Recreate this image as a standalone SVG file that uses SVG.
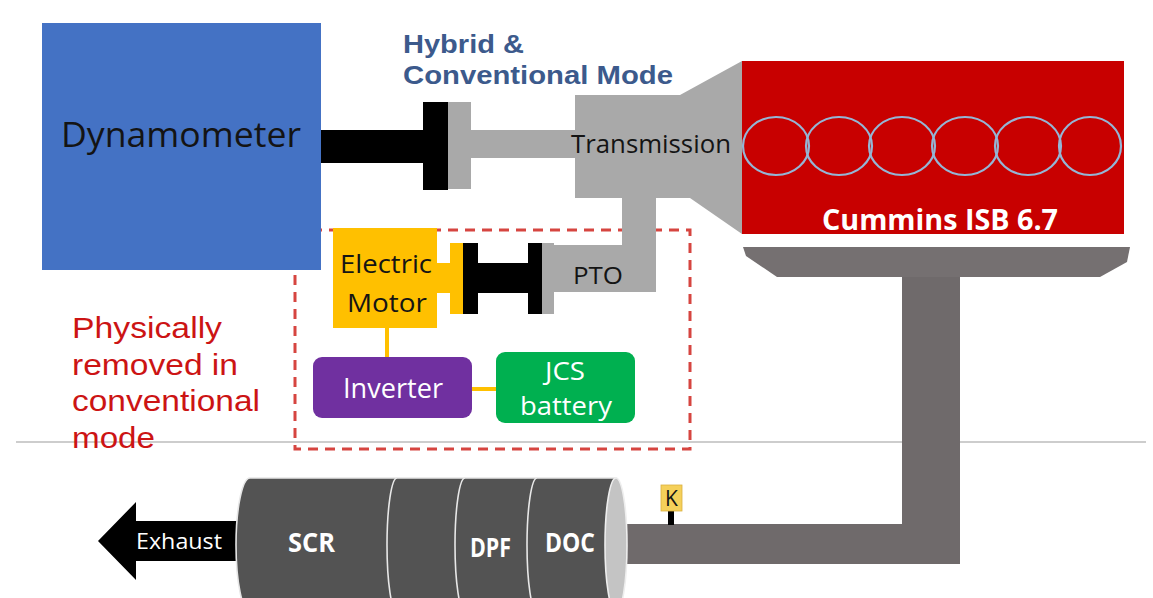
<svg xmlns="http://www.w3.org/2000/svg" width="1153" height="598" viewBox="0 0 1153 598">
  <style>
    .sans { font-family: "Open Sans", "DejaVu Sans", sans-serif; }
    .arial { font-family: "Liberation Sans", Arial, sans-serif; }
    .dark { fill: #141414; }
    .white { fill: #ffffff; }
    .bold { font-weight: bold; }
    .metal { fill: #a9a9a9; }
    .pipe { fill: #6f6a6b; }
    .shaft { fill: #000000; }
    .wire { stroke: #ffc000; stroke-width: 4; fill: none; }
    .cyl { fill: none; stroke: #94b6d6; stroke-width: 2.2; }
    .divider { fill: none; stroke: #e8e8e8; stroke-width: 1.6; }
  </style>

  <rect width="1153" height="598" fill="#ffffff"/>

  <!-- thin horizontal rule -->
  <line x1="16" y1="442" x2="1146" y2="442" stroke="#bdbdbd" stroke-width="1.3"/>

  <!-- region of removable hybrid parts -->
  <g id="hybrid-zone">
    <rect x="295" y="230" width="395" height="219" fill="none" stroke="#d64540" stroke-width="3" stroke-dasharray="10 7"/>
  </g>

  <g id="connectors">
    <!-- dyno shaft and coupling -->
    <rect class="shaft" x="320" y="130" width="104" height="33"/>
    <rect class="shaft" x="423" y="102" width="25" height="88"/>
    <rect class="metal" x="448" y="102" width="23" height="87"/>
    <rect class="metal" x="470" y="130" width="106" height="28"/>
    <!-- PTO stem -->
    <rect class="metal" x="622" y="196" width="34" height="52"/>
    <!-- motor to PTO coupling -->
    <rect fill="#ffc000" x="436" y="263" width="16" height="30"/>
    <rect fill="#ffc000" x="450" y="243" width="14" height="71"/>
    <rect class="shaft" x="463" y="243" width="15" height="71"/>
    <rect class="shaft" x="477" y="263" width="52" height="30"/>
    <rect class="shaft" x="528" y="243" width="14" height="71"/>
    <rect class="metal" x="542" y="243" width="12" height="71"/>
    <!-- electrical links -->
    <line class="wire" x1="387" y1="327" x2="387" y2="358"/>
    <line class="wire" x1="471" y1="389" x2="497" y2="389"/>
    <!-- exhaust piping -->
    <rect class="pipe" x="902" y="270" width="58" height="294"/>
    <rect class="pipe" x="612" y="524" width="348" height="40"/>
  </g>

  <g id="dynamometer">
    <rect x="42" y="23" width="279" height="247" fill="#4472c4"/>
    <text class="sans dark" x="61" y="147" font-size="35" textLength="240" lengthAdjust="spacingAndGlyphs">Dynamometer</text>
  </g>

  <g id="mode-label">
    <text class="arial bold" fill="#3c5a8c" x="403" y="53" font-size="25" textLength="121" lengthAdjust="spacingAndGlyphs">Hybrid &amp;</text>
    <text class="arial bold" fill="#3c5a8c" x="403" y="84" font-size="25" textLength="270" lengthAdjust="spacingAndGlyphs">Conventional Mode</text>
  </g>

  <g id="transmission">
    <polygon class="metal" points="575,95 680,95 742,61 742,234 690,198 575,198"/>
    <text class="sans dark" x="571" y="153" font-size="25" textLength="160" lengthAdjust="spacingAndGlyphs">Transmission</text>
  </g>

  <g id="engine">
    <rect x="742" y="61" width="382" height="173" fill="#c80000"/>
    <ellipse class="cyl" cx="776" cy="146" rx="33" ry="29"/>
    <ellipse class="cyl" cx="839" cy="146" rx="33" ry="29"/>
    <ellipse class="cyl" cx="902" cy="146" rx="33" ry="29"/>
    <ellipse class="cyl" cx="965" cy="146" rx="33" ry="29"/>
    <ellipse class="cyl" cx="1028" cy="146" rx="33" ry="29"/>
    <ellipse class="cyl" cx="1090" cy="146" rx="31" ry="29"/>
    <text class="sans white bold" x="822" y="230" font-size="29" textLength="236" lengthAdjust="spacingAndGlyphs">Cummins ISB 6.7</text>
    <!-- oil pan -->
    <polygon fill="#757071" points="743,247 1130,247 1127,262 1100,277 777,277 746,256"/>
  </g>

  <g id="electric-motor">
    <rect x="333" y="228" width="104" height="100" fill="#ffc000"/>
    <text class="sans dark" x="340" y="273" font-size="25" textLength="92" lengthAdjust="spacingAndGlyphs">Electric</text>
    <text class="sans dark" x="347" y="312" font-size="25" textLength="80" lengthAdjust="spacingAndGlyphs">Motor</text>
  </g>

  <g id="pto">
    <rect class="metal" x="553" y="245" width="103" height="47"/>
    <text class="sans dark" x="573" y="284" font-size="23" textLength="50" lengthAdjust="spacingAndGlyphs">PTO</text>
  </g>

  <g id="inverter">
    <rect x="313" y="357" width="159" height="61" rx="9" fill="#7030a0"/>
    <text class="sans white" x="343" y="398" font-size="27" textLength="100" lengthAdjust="spacingAndGlyphs">Inverter</text>
  </g>

  <g id="battery">
    <rect x="496" y="352" width="139" height="71" rx="9" fill="#00b050"/>
    <text class="sans white" x="545" y="380" font-size="25" textLength="40" lengthAdjust="spacingAndGlyphs">JCS</text>
    <text class="sans white" x="520" y="415" font-size="25" textLength="92" lengthAdjust="spacingAndGlyphs">battery</text>
  </g>

  <g id="note">
    <text class="arial" fill="#cc1414" x="72" y="338" font-size="29" textLength="150" lengthAdjust="spacingAndGlyphs">Physically</text>
    <text class="arial" fill="#cc1414" x="72" y="374.5" font-size="29" textLength="166" lengthAdjust="spacingAndGlyphs">removed in</text>
    <text class="arial" fill="#cc1414" x="72" y="411" font-size="29" textLength="188" lengthAdjust="spacingAndGlyphs">conventional</text>
    <text class="arial" fill="#cc1414" x="72" y="447.5" font-size="29" textLength="83" lengthAdjust="spacingAndGlyphs">mode</text>
  </g>

  <g id="exhaust-arrow">
    <polygon fill="#000000" points="98,541 136,502 136,521 240,521 240,561 136,561 136,580"/>
    <text class="sans white" x="136" y="549" font-size="22" textLength="86" lengthAdjust="spacingAndGlyphs">Exhaust</text>
  </g>

  <g id="aftertreatment">
    <path d="M250,478 L616,478 L616,612 L250,612 A14,67 0 0 1 250,478 Z" fill="#535353" stroke="#e6e6e6" stroke-width="1.6"/>
    <path class="divider" d="M397,478 A10,67 0 0 0 397,612"/>
    <path class="divider" d="M465,478 A10,67 0 0 0 465,612"/>
    <path class="divider" d="M537,478 A10,67 0 0 0 537,612"/>
    <ellipse cx="616" cy="545" rx="11" ry="67" fill="#c4c4c4" stroke="#eeeeee" stroke-width="1.6"/>
    <text class="sans white bold" x="288" y="552" font-size="27" textLength="47" lengthAdjust="spacingAndGlyphs">SCR</text>
    <text class="sans white bold" x="470" y="557" font-size="26" textLength="41" lengthAdjust="spacingAndGlyphs">DPF</text>
    <text class="sans white bold" x="545" y="552" font-size="26" textLength="50" lengthAdjust="spacingAndGlyphs">DOC</text>
  </g>

  <g id="sensor-k">
    <rect x="668" y="510" width="6" height="15" fill="#000000"/>
    <rect x="661" y="485" width="21" height="26" fill="#f5d05a" stroke="#d9b040" stroke-width="0.8"/>
    <text class="sans dark" x="671.5" y="506" font-size="21" text-anchor="middle">K</text>
  </g>
</svg>
